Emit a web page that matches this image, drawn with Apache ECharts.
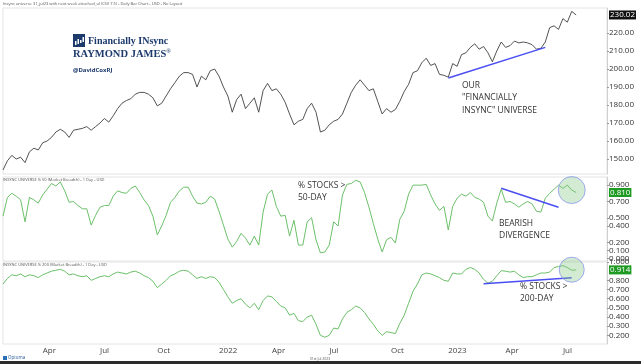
<!DOCTYPE html>
<html><head><meta charset="utf-8">
<script src="https://cdn.jsdelivr.net/npm/echarts@6/dist/echarts.min.js"></script>
<style>html,body{margin:0;padding:0;background:#fff}#c{width:641px;height:364px}</style>
</head><body><div id="c"></div>
<script>
// ---- data ----
const startDate = '2021-01-29';   // first weekly bar (Friday)
const weekCount = 138;            // weeks shown on the time axis (incl. blank weeks at the right)
const price = [143.9,149,152,150,151,148,154,156,155,159,
160,162,165,166.5,165,162,166,166.5,167,168,
166,168,170,172.5,170.5,174,178,181,182.5,183.5,
186,187,187,186,184,179.5,181,185,189,192.5,
196,198,198,197,190,196,194,199,200,196,
190,185,176,183,186,178,181,184,176,188,
192,188,189,186,181.5,175,169,171,172,178,
181,176,165,166,169,171,172,175,181,187,
191,194,191,188,189,182,175,178,176,177.5,
182,187.5,191.5,198,199,203.5,206,202,203,197,
196.5,195.5,203,201.5,208,209,212,214,211,212.5,
209,204,210,215,212,213,215.5,214.5,215,214.5,
213.5,211,211.5,215,223,224,222,228,226,232,230.02];
const pct50 = [0.52,0.75,0.80,0.765,0.72,0.45,0.75,0.72,0.68,0.78,
0.85,0.92,0.89,0.94,0.83,0.69,0.70,0.65,0.61,0.61,
0.41,0.53,0.63,0.65,0.65,0.765,0.83,0.81,0.80,0.86,
0.89,0.81,0.72,0.65,0.52,0.29,0.40,0.53,0.69,0.75,
0.83,0.875,0.875,0.765,0.68,0.67,0.69,0.765,0.73,0.58,
0.41,0.24,0.14,0.21,0.31,0.25,0.165,0.275,0.165,0.57,
0.79,0.84,0.64,0.52,0.53,0.275,0.47,0.165,0.165,0.45,
0.50,0.23,0.07,0.08,0.165,0.45,0.40,0.78,0.91,0.92,
0.96,0.94,0.81,0.63,0.43,0.24,0.08,0.23,0.26,0.19,
0.48,0.58,0.79,0.90,0.90,0.90,0.91,0.78,0.67,0.59,
0.64,0.35,0.64,0.74,0.79,0.765,0.81,0.75,0.73,0.69,
0.52,0.46,0.68,0.85,0.69,0.70,0.67,0.63,0.67,0.70,
0.67,0.58,0.57,0.74,0.80,0.85,0.90,0.86,0.90,0.84,0.81];
const pct200 = [0.76,0.82,0.86,0.85,0.87,0.84,0.86,0.85,0.83,0.86,
0.88,0.90,0.91,0.92,0.90,0.86,0.87,0.85,0.84,0.85,
0.80,0.82,0.84,0.85,0.84,0.87,0.89,0.88,0.87,0.89,
0.90,0.88,0.85,0.83,0.79,0.72,0.76,0.80,0.85,0.87,
0.90,0.91,0.90,0.86,0.82,0.84,0.82,0.84,0.83,0.78,
0.70,0.62,0.55,0.58,0.60,0.54,0.50,0.55,0.48,0.58,
0.63,0.62,0.57,0.52,0.50,0.42,0.44,0.36,0.35,0.40,
0.42,0.32,0.20,0.18,0.20,0.28,0.27,0.38,0.45,0.48,
0.52,0.50,0.45,0.38,0.32,0.25,0.20,0.24,0.23,0.22,
0.33,0.42,0.55,0.68,0.76,0.86,0.88,0.87,0.85,0.83,
0.80,0.79,0.88,0.87,0.87,0.92,0.94,0.92,0.88,0.81,
0.77,0.79,0.85,0.905,0.90,0.89,0.90,0.86,0.83,0.84,
0.84,0.86,0.88,0.88,0.89,0.94,0.95,0.96,0.94,0.91,0.914];
const priceTicks = [150,160,170,180,190,200,210,220];
const pct50Ticks = [0,0.1,0.2,0.4,0.5,0.7,0.9];
const pct200Ticks = [0.2,0.3,0.4,0.5,0.6,0.7,0.8,1.0];
const quarterNames = {3:'Apr',6:'Jul',9:'Oct'};   // January shows the year
const trendPrice = [[101,195],[123,212]];
const trend50 = [[113,0.863],[126,0.63]];
const trend200 = [[109,0.763],[129,0.829]];
const circle50 = [[129,0.84]];
const circle200 = [[129,0.916]];

// ---- build ----
const categories = [];
{
  const d0 = new Date(startDate + 'T00:00:00Z');
  for (let i = 0; i < weekCount; i++) {
    const d = new Date(d0.getTime() + i * 7 * 86400000);
    categories.push(d.toISOString().slice(0, 10));
  }
}
function isQuarterStart(v){
  const d = new Date(v + 'T00:00:00Z');
  return d.getUTCMonth() % 3 === 0 && d.getUTCDate() <= 7;
}
function quarterLabel(v){
  const d = new Date(v + 'T00:00:00Z');
  const m = d.getUTCMonth();
  return m === 0 ? String(d.getUTCFullYear()) : quarterNames[m];
}
const FONT = 'Open Sans';
const green = '#6cc06a';
const blue = '#4a4ef2';
const gridBase = {left: 3, right: 34, show: true, borderColor: '#e4e4e4', borderWidth: 1};
function xAx(idx, showLabels){
  return {type:'category', gridIndex: idx, data: categories, boundaryGap: false,
    axisLine:{show:false}, axisTick:{show:false}, splitLine:{show:false},
    axisLabel: showLabels ? {show:true, interval:(i,v)=>isQuarterStart(v), formatter: quarterLabel,
      align:'left', fontSize:8, color:'#444', fontFamily:FONT, margin:3} : {show:false}};
}
function yAx(idx, min, max, ticks, dec){
  return {type:'value', gridIndex: idx, position:'right', min, max, splitLine:{show:false},
    axisLine:{show:true, lineStyle:{color:'#d0d0d0'}},
    axisTick:{show:true, customValues: ticks, length:2, lineStyle:{color:'#999'}},
    axisLabel:{customValues: ticks, formatter: v => v.toFixed(dec), fontSize:8, color:'#333', fontFamily:FONT, margin:2}};
}
function lastMark(val, dec, bg){
  const txt = val.toFixed(dec);
  return {symbol:'none', silent:true, lineStyle:{width:0}, animation:false, precision: 4,
    label:{position:'end', distance:2, formatter: () => txt, backgroundColor: bg,
      color:'#fff', fontSize:8, fontFamily:FONT, padding:[1,1,0,1]},
    data:[{yAxis: val}]};
}
const chart = echarts.init(document.getElementById('c'), null, {renderer:'canvas'});
chart.setOption({
  animation:false,
  backgroundColor:'#fff',
  grid:[
    Object.assign({top:8, height:166}, gridBase),
    Object.assign({top:177, height:84}, gridBase),
    Object.assign({top:262, height:82}, gridBase)
  ],
  xAxis:[xAx(0,false), xAx(1,false), xAx(2,true)],
  yAxis:[yAx(0,141.67,233.89,priceTicks,2), yAx(1,-0.03,1.0,pct50Ticks,3), yAx(2,0.106,1.0,pct200Ticks,3)],
  series:[
    {type:'line', xAxisIndex:0, yAxisIndex:0, data:price, symbol:'none', lineStyle:{color:'#404040', width:0.9},
      markLine: lastMark(price[price.length-1], 2, '#111')},
    {type:'line', xAxisIndex:1, yAxisIndex:1, data:pct50, symbol:'none', lineStyle:{color:green, width:1},
      markLine: lastMark(pct50[pct50.length-1], 3, '#1f9a22')},
    {type:'line', xAxisIndex:2, yAxisIndex:2, data:pct200, symbol:'none', lineStyle:{color:green, width:1},
      markLine: lastMark(pct200[pct200.length-1], 3, '#1f9a22')},
    {type:'line', xAxisIndex:0, yAxisIndex:0, data:trendPrice, symbol:'none', lineStyle:{color:blue, width:1.5}, z:5},
    {type:'line', xAxisIndex:1, yAxisIndex:1, data:trend50, symbol:'none', lineStyle:{color:blue, width:1.5}, z:5},
    {type:'line', xAxisIndex:2, yAxisIndex:2, data:trend200, symbol:'none', lineStyle:{color:blue, width:1.5}, z:5},
    {type:'scatter', xAxisIndex:1, yAxisIndex:1, data:circle50, symbolSize:27,
      itemStyle:{color:'rgba(130,200,130,0.45)', borderColor:'#8b97f0', borderWidth:1}, z:6},
    {type:'scatter', xAxisIndex:2, yAxisIndex:2, data:circle200, symbolSize:25,
      itemStyle:{color:'rgba(130,200,130,0.45)', borderColor:'#8b97f0', borderWidth:1}, z:6}
  ],
  graphic:[
    {type:'text', left:3, top:2, style:{text:'Insync universe 31_jul23 with next week attached_ul (CSV 7.5) - Daily Bar Chart - USD - No Layout', fontSize:4, fill:'#555', fontFamily:FONT}},
    {type:'text', left:3, top:177.5, style:{text:'INSYNC UNIVERSE % 50 (Market Breadth) - 1 Day - USD', fontSize:4, fill:'#555', fontFamily:FONT}},
    {type:'text', left:3, top:263, style:{text:'INSYNC UNIVERSE % 200 (Market Breadth) - 1 Day - USD', fontSize:4, fill:'#555', fontFamily:FONT}},
    // logo
    {type:'rect', shape:{x:73, y:34, width:12, height:13}, style:{fill:'#1d3a6c'}},
    {type:'rect', shape:{x:75, y:41, width:1.5, height:4}, style:{fill:'#fff'}},
    {type:'rect', shape:{x:77.5, y:39, width:1.5, height:5}, style:{fill:'#fff'}},
    {type:'rect', shape:{x:80, y:40, width:1.5, height:3}, style:{fill:'#fff'}},
    {type:'rect', shape:{x:82.5, y:37, width:1.5, height:5}, style:{fill:'#fff'}},
    {type:'text', x:88, y:41, style:{text:'Financially INsync', fontSize:10, fontWeight:'bold', fill:'#1d3a6c', fontFamily:'Liberation Serif', verticalAlign:'middle'}},
    {type:'text', x:73, y:54, style:{text:'RAYMOND JAMES{r|\u00AE}', fontSize:10.5, fontWeight:'bold', fill:'#1d3a6c', fontFamily:'Liberation Serif', verticalAlign:'middle',
      rich:{r:{fontSize:6, fontWeight:'bold', fill:'#1d3a6c', fontFamily:'Liberation Serif', verticalAlign:'top', padding:[0,0,5,0]}}}},
    {type:'text', x:73, y:70, style:{text:'@DavidCoxRJ', fontSize:6, fontWeight:'bold', fill:'#1d3a6c', fontFamily:FONT, verticalAlign:'middle'}},
    // annotations
    {type:'text', x:462, y:98, style:{text:'OUR\n"FINANCIALLY\nINSYNC" UNIVERSE', fontSize:8.5, lineHeight:12.5, fill:'#333', fontFamily:FONT, verticalAlign:'middle'}},
    {type:'text', x:298, y:192, style:{text:'% STOCKS >\n50-DAY', fontSize:8.5, lineHeight:12, fill:'#333', fontFamily:FONT, verticalAlign:'middle'}},
    {type:'text', x:499, y:230, style:{text:'BEARISH\nDIVERGENCE', fontSize:8.5, lineHeight:12, fill:'#333', fontFamily:FONT, verticalAlign:'middle'}},
    {type:'text', x:520, y:293, style:{text:'% STOCKS >\n200-DAY', fontSize:8.5, lineHeight:12, fill:'#333', fontFamily:FONT, verticalAlign:'middle'}},
    // footer
    {type:'rect', shape:{x:3, y:356, width:4, height:4}, style:{fill:'#2a6fb5'}},
    {type:'text', x:8, y:358, style:{text:'Optuma', fontSize:4.5, fill:'#2a5a9a', fontFamily:FONT, verticalAlign:'middle'}},
    {type:'text', x:320, y:358.5, style:{text:'31st Jul 2023', fontSize:3.5, fill:'#555', fontFamily:FONT, verticalAlign:'middle', align:'center'}},
    {type:'rect', shape:{x:0, y:361, width:641, height:3}, style:{fill:'#2b2b2b'}}
  ]
});
</script></body></html>
